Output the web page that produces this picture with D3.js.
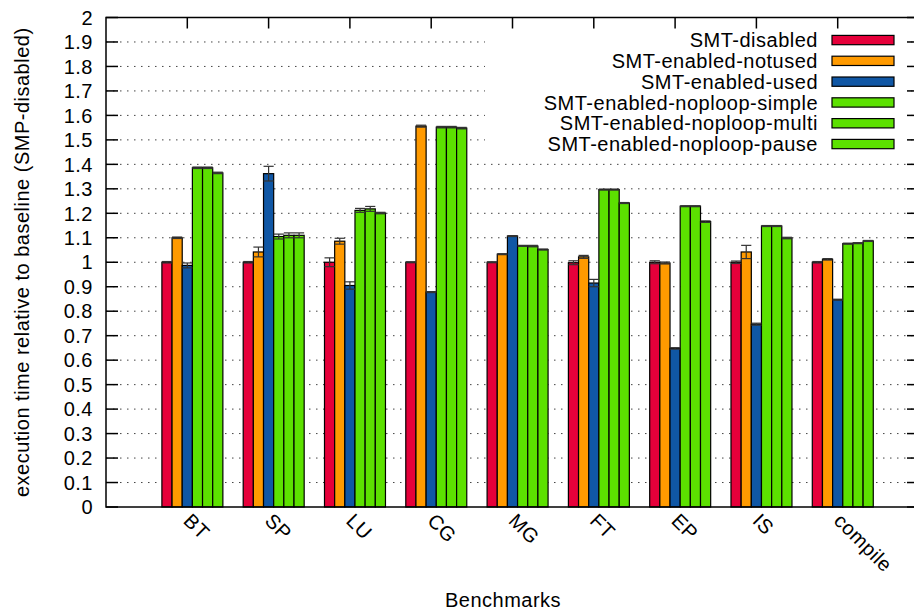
<!DOCTYPE html>
<html>
<head>
<meta charset="utf-8">
<script src="https://cdn.jsdelivr.net/npm/d3@7"></script>
<style>
  body { margin: 0; background: #fff; }
  svg text { font-family: "Liberation Sans", Arial, Helvetica, sans-serif; font-size: 20px; letter-spacing: 0.5px; fill: #000; }
</style>
</head>
<body>
<svg width="914" height="614"></svg>
<script>
(function (d3) {
  'use strict';

  const categories = ['BT', 'SP', 'LU', 'CG', 'MG', 'FT', 'EP', 'IS', 'compile'];
  const seriesNames = [
    'SMT-disabled',
    'SMT-enabled-notused',
    'SMT-enabled-used',
    'SMT-enabled-noploop-simple',
    'SMT-enabled-noploop-multi',
    'SMT-enabled-noploop-pause'
  ];
  const seriesColors = ['#e6003a', '#ff9a00', '#1057a5', '#5ce100', '#5ce100', '#5ce100'];

  const smtDisabled   = [1.0, 1.0, 1.0, 1.0, 1.0, 0.998, 1.0, 1.0, 1.0];
  const smtNotused    = [1.10, 1.042, 1.086, 1.556, 1.033, 1.022, 0.997, 1.042, 1.012];
  const smtUsed       = [0.987, 1.362, 0.905, 0.878, 1.107, 0.915, 0.648, 0.747, 0.847];
  const noploopSimple = [1.386, 1.105, 1.212, 1.552, 1.067, 1.297, 1.229, 1.148, 1.076];
  const noploopMulti  = [1.386, 1.11, 1.218, 1.552, 1.066, 1.297, 1.229, 1.148, 1.078];
  const noploopPause  = [1.365, 1.11, 1.201, 1.548, 1.052, 1.242, 1.166, 1.099, 1.087];

  // error bar half-widths, same order
  const errDisabled = [0.003, 0.003, 0.018, 0.002, 0.002, 0.008, 0.006, 0.005, 0.003];
  const errNotused  = [0.003, 0.02, 0.012, 0.004, 0.002, 0.006, 0.004, 0.027, 0.003];
  const errUsed     = [0.01, 0.03, 0.015, 0.002, 0.002, 0.015, 0.003, 0.004, 0.002];
  const errSimple   = [0.003, 0.01, 0.008, 0.003, 0.002, 0.002, 0.002, 0.002, 0.002];
  const errMulti    = [0.003, 0.01, 0.01, 0.003, 0.003, 0.002, 0.002, 0.002, 0.002];
  const errPause    = [0.003, 0.01, 0.003, 0.003, 0.002, 0.002, 0.003, 0.003, 0.002];

  const yTicks = d3.range(0, 21).map(d => d / 10);

  const series = [smtDisabled, smtNotused, smtUsed, noploopSimple, noploopMulti, noploopPause];
  const errors = [errDisabled, errNotused, errUsed, errSimple, errMulti, errPause];

  const svg = d3.select('svg');
  const left = 106, right = 919, top = 17.5, bottom = 507;

  const x = d3.scaleLinear().domain([-1, categories.length]).range([left, right]);
  const y = d3.scaleLinear().domain([0, 2]).range([bottom, top]);
  const slot = (x(1) - x(0)) / (series.length + 2);   // gap of 2 slots per cluster
  const barX = (i, j) => x(i) + (j - 2.5) * slot;

  const cells = [];
  series.forEach((vals, j) => vals.forEach((v, i) =>
    cells.push({ i, j, v, e: errors[j][i] })));

  // grid
  svg.append('g')
    .selectAll('line')
    .data(yTicks.filter(d => d > 0 && d < 2))
    .enter()
    .append('line')
      .attr('x1', left).attr('x2', right)
      .attr('y1', d => y(d)).attr('y2', d => y(d))
      .attr('stroke', '#444')
      .attr('stroke-width', 1)
      .attr('stroke-dasharray', '1.5,5.5');

  // legend box hides grid
  svg.append('rect')
    .attr('x', 485).attr('y', 28)
    .attr('width', 421).attr('height', 128)
    .attr('fill', '#fff');

  // bars
  svg.append('g')
    .selectAll('rect')
    .data(cells)
    .enter()
    .append('rect')
      .attr('x', d => barX(d.i, d.j))
      .attr('y', d => y(d.v))
      .attr('width', slot)
      .attr('height', d => y(0) - y(d.v))
      .attr('fill', d => seriesColors[d.j])
      .attr('stroke', '#000')
      .attr('stroke-width', 1.2);

  // error bars
  const eg = svg.append('g')
    .attr('stroke', '#333')
    .attr('stroke-width', 1.2);
  cells.forEach(d => {
    const cx = barX(d.i, d.j) + slot / 2;
    eg.append('line')
      .attr('x1', cx).attr('x2', cx)
      .attr('y1', y(d.v - d.e)).attr('y2', y(d.v + d.e));
    [d.v - d.e, d.v + d.e].forEach(t => {
      eg.append('line')
        .attr('x1', cx - slot / 2).attr('x2', cx + slot / 2)
        .attr('y1', y(t)).attr('y2', y(t));
    });
  });

  // frame
  svg.append('rect')
    .attr('x', left).attr('y', top)
    .attr('width', right - left).attr('height', bottom - top)
    .attr('fill', 'none')
    .attr('stroke', '#000')
    .attr('stroke-width', 1.5);

  // y ticks, left and mirrored right
  const yt = svg.append('g');
  yt.selectAll('line.l')
    .data(yTicks)
    .enter()
    .append('line')
      .attr('class', 'l')
      .attr('x1', left).attr('x2', left + 12)
      .attr('y1', d => y(d)).attr('y2', d => y(d))
      .attr('stroke', '#000').attr('stroke-width', 1.5);
  yt.selectAll('line.r')
    .data(yTicks)
    .enter()
    .append('line')
      .attr('class', 'r')
      .attr('x1', right - 12).attr('x2', right)
      .attr('y1', d => y(d)).attr('y2', d => y(d))
      .attr('stroke', '#000').attr('stroke-width', 1.5);
  yt.selectAll('text')
    .data(yTicks)
    .enter()
    .append('text')
      .attr('x', 93)
      .attr('y', d => y(d))
      .attr('dy', '0.36em')
      .attr('text-anchor', 'end')
      .text(d => d3.format('~g')(d));

  // x ticks at top, labels rotated below
  const xt = svg.append('g');
  xt.selectAll('line')
    .data(categories)
    .enter()
    .append('line')
      .attr('x1', (d, i) => x(i)).attr('x2', (d, i) => x(i))
      .attr('y1', top).attr('y2', top + 11)
      .attr('stroke', '#000').attr('stroke-width', 1.5);
  xt.selectAll('text')
    .data(categories)
    .enter()
    .append('text')
      .attr('transform', (d, i) => `translate(${x(i)},517) rotate(45)`)
      .attr('dy', '0.35em')
      .text(d => d);

  // axis titles
  svg.append('text')
    .attr('transform', `translate(22,${(top + bottom) / 2}) rotate(-90)`)
    .attr('text-anchor', 'middle')
    .attr('dy', '0.35em')
    .text('execution time relative to baseline (SMP-disabled)');

  svg.append('text')
    .attr('x', 503)
    .attr('y', 607)
    .attr('text-anchor', 'middle')
    .text('Benchmarks');

  // legend
  const lg = svg.append('g')
    .selectAll('g')
    .data(seriesNames)
    .enter()
    .append('g')
      .attr('transform', (d, i) => `translate(0,${40 + i * 20.8})`);
  lg.append('rect')
    .attr('x', 832).attr('y', -4.6)
    .attr('width', 62).attr('height', 9.3)
    .attr('fill', (d, i) => seriesColors[i])
    .attr('stroke', '#000')
    .attr('stroke-width', 1.2);
  lg.append('text')
    .attr('x', 818)
    .attr('dy', '0.36em')
    .attr('text-anchor', 'end')
    .text(d => d);

}(d3));
</script>
</body>
</html>
